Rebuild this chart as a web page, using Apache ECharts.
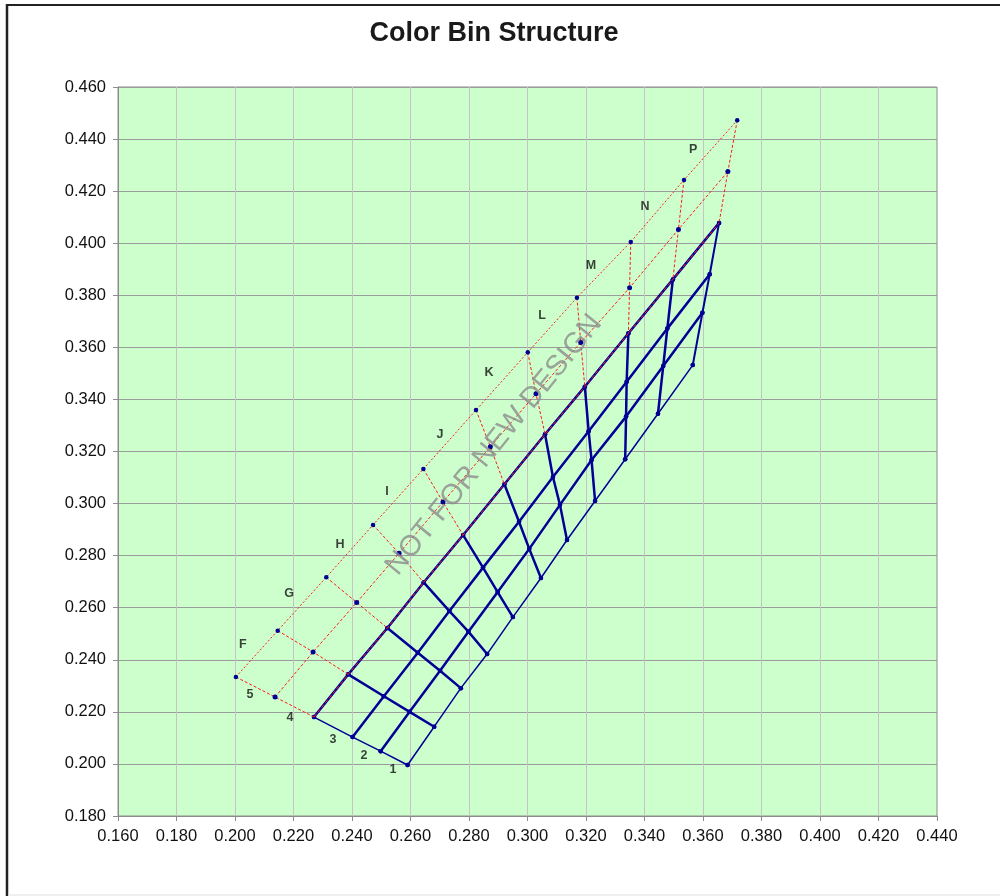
<!DOCTYPE html>
<html>
<head>
<meta charset="utf-8">
<script src="https://cdn.jsdelivr.net/npm/echarts@6/dist/echarts.min.js"></script>
<style>
html,body{margin:0;padding:0;background:#fff;}
#chart{width:1000px;height:896px;}
</style>
</head>
<body>
<div id="chart"></div>
<script>
// ---- data (CIE x, y) ----
const xTicks = [0.16, 0.44, 0.02];
const yTicks = [0.18, 0.46, 0.02];

const rowOuter = [[0.2003,0.2334],[0.2146,0.2512],[0.2312,0.2717],[0.2472,0.2918],[0.2644,0.3133],[0.2824,0.3359],[0.3001,0.3581],[0.3169,0.3791],[0.3353,0.4005],[0.3535,0.4243],[0.3717,0.4472]];
const row5 = [[0.2137,0.2257],[0.2267,0.2430],[0.2416,0.2620],[0.2561,0.2809],[0.2711,0.3006],[0.2873,0.3218],[0.3029,0.3422],[0.3182,0.3619],[0.3349,0.3829],[0.3516,0.4053],[0.3685,0.4275]];
const row4 = [[0.2270,0.2180],[0.2387,0.2344],[0.2521,0.2522],[0.2645,0.2697],[0.2780,0.2879],[0.2921,0.3074],[0.3060,0.3266],[0.3196,0.3449],[0.3345,0.3654],[0.3497,0.3861],[0.3655,0.4078]];
const row3 = [[0.2402,0.2103],[0.2509,0.2260],[0.2625,0.2427],[0.2733,0.2587],[0.2848,0.2754],[0.2971,0.2930],[0.3087,0.3102],[0.3209,0.3278],[0.3339,0.3468],[0.3478,0.3672],[0.3623,0.3881]];
const row2 = [[0.2498,0.2049],[0.2597,0.2200],[0.2701,0.2358],[0.2798,0.2508],[0.2898,0.2660],[0.3006,0.2826],[0.3111,0.2995],[0.3219,0.3167],[0.3337,0.3334],[0.3464,0.3528],[0.3598,0.3733]];
const row1 = [[0.2590,0.1996],[0.2681,0.2143],[0.2772,0.2291],[0.2862,0.2422],[0.2950,0.2564],[0.3046,0.2714],[0.3135,0.2860],[0.3231,0.3010],[0.3334,0.3170],[0.3446,0.3345],[0.3565,0.3532]];

const binNames = ['F','G','H','I','J','K','L','M','N','P'];
const binLabelPos = [[0.2027,0.2457],[0.2185,0.2653],[0.2359,0.2841],[0.2520,0.3048],[0.2701,0.3267],[0.2868,0.3502],[0.3050,0.3724],[0.3217,0.3913],[0.3402,0.4139],[0.3566,0.4358]];
const rowNames = ['5','4','3','2','1'];
const rowLabelPos = [[0.2051,0.2265],[0.2188,0.2180],[0.2335,0.2092],[0.2441,0.2034],[0.2540,0.1977]];

const chartTitle = 'Color Bin Structure';
const watermark = 'NOT FOR NEW DESIGN';
// ---------------------------

const NAVY = '#000096';
const RED = '#ff1a1a';
const series = [];

function blueLine(data, width) {
  series.push({
    type: 'line', data: data, symbol: 'circle', symbolSize: 4.5, showSymbol: true,
    lineStyle: { color: NAVY, width: width }, itemStyle: { color: NAVY }, z: 2, silent: true
  });
}
function redLine(data, dash, sym) {
  series.push({
    type: 'line', data: data, symbol: 'circle', symbolSize: sym, showSymbol: sym > 0,
    lineStyle: { color: RED, width: 1, type: dash }, itemStyle: { color: NAVY }, z: 3, silent: true
  });
}

// blue rows
blueLine(row4, 2.5);
blueLine(row3, 2.5);
blueLine(row2, 2.5);
blueLine(row1, 1.5);
// blue columns
for (let c = 0; c < row4.length; c++) {
  const w = (c === 0) ? 1.5 : (c === row4.length - 1 ? 2 : 2.5);
  blueLine([row4[c], row3[c], row2[c], row1[c]], w);
}
// red region
redLine(rowOuter, [2, 2], 4.5);
redLine(row5, [3, 2], 5);
redLine(row4, [4, 2], 0);
for (let c = 0; c < rowOuter.length; c++) {
  redLine([rowOuter[c], row5[c], row4[c]], [3, 2], 0);
}
// labels
const lblStyle = { show: true, position: 'inside', formatter: '{b}', fontFamily: 'Liberation Sans, Arial', fontWeight: 'bold', fontSize: 12.5, color: '#111' };
series.push({
  type: 'scatter', symbolSize: 0, z: 5, silent: true,
  data: binNames.map((n, i) => ({ name: n, value: binLabelPos[i] })),
  label: lblStyle
});
series.push({
  type: 'scatter', symbolSize: 0, z: 5, silent: true,
  data: rowNames.map((n, i) => ({ name: n, value: rowLabelPos[i] })),
  label: lblStyle
});

const chart = echarts.init(document.getElementById('chart'), null, { renderer: 'canvas' });
chart.setOption({
  animation: false,
  backgroundColor: '#ffffff',
  grid: {
    left: 118, top: 87, width: 819, height: 729,
    show: true, backgroundColor: '#ccffcc', borderColor: '#8c8c8c', borderWidth: 1
  },
  xAxis: {
    type: 'value', min: xTicks[0], max: xTicks[1], interval: xTicks[2],
    axisLine: { show: true, onZero: false, lineStyle: { color: '#8c8c8c', width: 1 } },
    axisTick: { show: true, inside: false, length: 5, lineStyle: { color: '#8c8c8c' } },
    axisLabel: { margin: 12, fontFamily: 'Liberation Sans, Arial', fontSize: 16.5, color: '#111', formatter: v => v.toFixed(3) },
    splitLine: { show: true, lineStyle: { color: '#c4c4c4', width: 1 } }
  },
  yAxis: {
    type: 'value', min: yTicks[0], max: yTicks[1], interval: yTicks[2],
    axisLine: { show: true, onZero: false, lineStyle: { color: '#8c8c8c', width: 1 } },
    axisTick: { show: true, inside: false, length: 5, lineStyle: { color: '#8c8c8c' } },
    axisLabel: { margin: 12, fontFamily: 'Liberation Sans, Arial', fontSize: 16.5, color: '#111', formatter: v => v.toFixed(3) },
    splitLine: { show: true, lineStyle: { color: '#9c9c9c', width: 1 } }
  },
  graphic: [
    { type: 'line', shape: { x1: 7, y1: 4, x2: 7, y2: 896 }, style: { stroke: '#222', lineWidth: 2.5 }, z: 100 },
    { type: 'line', shape: { x1: 6, y1: 5, x2: 1000, y2: 5 }, style: { stroke: '#222', lineWidth: 2 }, z: 100 },
    { type: 'line', shape: { x1: 8, y1: 895, x2: 1000, y2: 895 }, style: { stroke: '#e0e0e0', lineWidth: 1 }, z: 100 },
    {
      type: 'text', x: 494, y: 34, z: 100, silent: true,
      style: { text: chartTitle, fill: '#1a1a1a', font: 'bold 27px "Liberation Sans", Arial', textAlign: 'center', textVerticalAlign: 'middle' }
    },
    {
      type: 'text', x: 494, y: 445, rotation: 51 * Math.PI / 180, z: 100, silent: true,
      style: { text: watermark, fill: 'rgba(140,140,140,0.8)', font: '29px "Liberation Sans", Arial', textAlign: 'center', textVerticalAlign: 'middle' }
    }
  ],
  series: series
});
</script>
</body>
</html>
